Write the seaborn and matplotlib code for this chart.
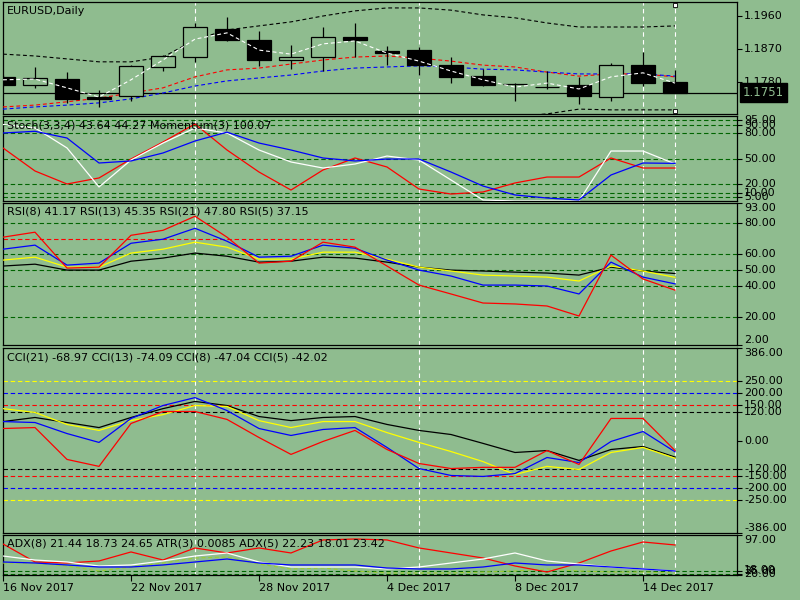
import matplotlib
matplotlib.use("Agg")
import matplotlib.pyplot as plt
import matplotlib.transforms as mtransforms
import numpy as np
import pandas as pd
import seaborn as sns

# ------ DATA ------ #

dates = ["16 Nov 2017", "17 Nov 2017", "20 Nov 2017", "21 Nov 2017", "22 Nov 2017",
         "23 Nov 2017", "24 Nov 2017", "27 Nov 2017", "28 Nov 2017", "29 Nov 2017",
         "30 Nov 2017", "1 Dec 2017", "4 Dec 2017", "5 Dec 2017", "6 Dec 2017",
         "7 Dec 2017", "8 Dec 2017", "11 Dec 2017", "12 Dec 2017", "13 Dec 2017",
         "14 Dec 2017", "15 Dec 2017"]

opens = [1.1794, 1.1772, 1.1788, 1.1739, 1.1742, 1.1821, 1.1849, 1.1925, 1.1895, 1.1840, 1.1848,
         1.1903, 1.1865, 1.1867, 1.1826, 1.1796, 1.1775, 1.1766, 1.1772, 1.1739, 1.1826, 1.1779]
highs = [1.1799, 1.1821, 1.1807, 1.1758, 1.1826, 1.1854, 1.1941, 1.1957, 1.1919, 1.1881, 1.1930,
         1.1940, 1.1878, 1.1876, 1.1848, 1.1816, 1.1777, 1.1810, 1.1794, 1.1832, 1.1862, 1.1813]
lows = [1.1768, 1.1764, 1.1723, 1.1712, 1.1728, 1.1810, 1.1835, 1.1892, 1.1824, 1.1816, 1.1810,
        1.1848, 1.1826, 1.1799, 1.1777, 1.1769, 1.1728, 1.1761, 1.1720, 1.1728, 1.1769, 1.1751]
closes = [1.1772, 1.1791, 1.1734, 1.1734, 1.1824, 1.1851, 1.1930, 1.1895, 1.1840, 1.1848, 1.1903,
          1.1895, 1.1859, 1.1826, 1.1793, 1.1772, 1.1774, 1.1766, 1.1742, 1.1826, 1.1777, 1.1751]
last_price = 1.1751

ma_fast = [1.1786, 1.1788, 1.1764, 1.1739, 1.1786, 1.1840, 1.1897, 1.1914, 1.1867, 1.1856, 1.1884,
           1.1892, 1.1859, 1.1837, 1.1810, 1.1786, 1.1766, 1.1777, 1.1761, 1.1794, 1.1805, 1.1777]
ma_red = [1.1712, 1.1717, 1.1726, 1.1736, 1.1750, 1.1764, 1.1794, 1.1813, 1.1818, 1.1829, 1.1840,
          1.1848, 1.1851, 1.1845, 1.1837, 1.1826, 1.1821, 1.1807, 1.1796, 1.1802, 1.1802, 1.1794]
ma_blue = [1.1706, 1.1712, 1.1717, 1.1723, 1.1734, 1.1750, 1.1769, 1.1783, 1.1791, 1.1799, 1.1810,
           1.1818, 1.1821, 1.1824, 1.1821, 1.1815, 1.1813, 1.1807, 1.1802, 1.1802, 1.1802, 1.1796]
band_upper = [1.1856, 1.1851, 1.1843, 1.1835, 1.1835, 1.1848, 1.1895, 1.1922, 1.1933, 1.1944, 1.1960,
              1.1974, 1.1982, 1.1982, 1.1976, 1.1963, 1.1955, 1.1941, 1.1930, 1.1930, 1.1930, 1.1933]
band_lower = [1.1640, 1.1640, 1.1645, 1.1650, 1.1655, 1.1655, 1.1640, 1.1640, 1.1645, 1.1650, 1.1650,
              1.1650, 1.1655, 1.1660, 1.1668, 1.1676, 1.1686, 1.1693, 1.1706, 1.1704, 1.1704, 1.1704]
price_ticks = [1.1960, 1.1870, 1.1780]

stoch_main = [90.0, 86.0, 62.4, 16.5, 48.2, 68.2, 85.9, 80.0, 60.0, 45.9, 38.8,
              43.5, 52.9, 48.2, 24.7, 1.2, 0.0, 0.0, 0.0, 58.8, 58.8, 43.64]
stoch_signal = [80.0, 82.0, 74.1, 44.7, 47.1, 56.5, 70.6, 81.0, 68.2, 60.0, 50.6,
                47.1, 49.4, 49.4, 34.1, 17.6, 7.1, 3.5, 1.2, 30.6, 44.7, 44.27]
momentum = [62.4, 35.3, 20.0, 27.1, 49.4, 69.4, 90.6, 60.0, 34.1, 12.9, 36.5,
            50.6, 40.0, 14.1, 8.2, 10.6, 21.2, 28.2, 28.2, 50.6, 38.8, 38.8]
stoch_levels = [95, 90, 80, 50, 20, 10, 5]

rsi_5 = [71.1, 74.3, 51.3, 51.9, 72.3, 75.5, 84.5, 71.1, 54.5, 55.7, 67.9,
         64.7, 52.6, 40.4, 34.7, 28.9, 28.3, 27.0, 20.6, 59.6, 44.3, 37.15]
rsi_8 = [63.4, 66.0, 53.2, 54.5, 67.2, 69.8, 76.8, 68.5, 58.3, 58.9, 66.0,
         64.0, 56.4, 50.0, 46.2, 40.4, 40.4, 39.8, 34.7, 55.1, 45.5, 41.17]
rsi_13 = [56.4, 58.3, 51.9, 51.9, 60.9, 63.4, 67.9, 64.7, 57.0, 57.0, 61.5,
          61.5, 57.0, 51.9, 49.4, 46.8, 46.2, 45.5, 43.0, 52.6, 49.4, 45.35]
rsi_21 = [52.6, 53.8, 50.0, 50.0, 55.7, 57.7, 60.9, 58.9, 55.1, 55.7, 58.3,
          57.7, 55.1, 51.9, 50.0, 49.4, 48.7, 48.1, 46.8, 51.9, 49.4, 47.80]
rsi_levels = [80, 60, 50, 40, 20]
rsi_ticks = [93, 80, 60, 50, 40, 20, 2]
rsi_mark = 70

cci_21 = [79, 96, 75, 54, 96, 133, 163, 146, 100, 83, 96,
          100, 67, 42, 25, -12, -50, -42, -83, -37.5, -25, -68.97]
cci_13 = [133, 117, 67, 42, 83, 108, 146, 142, 83, 54, 79,
          79, 33, -8, -46, -88, -142, -108, -121, -50, -29, -74.09]
cci_8 = [79, 75, 29, -8, 92, 146, 179, 125, 50, 21, 46,
         54, -29, -117, -146, -150, -138, -71, -92, -4, 37.5, -47.04]
cci_5 = [50, 54, -79, -108, 71, 121, 121, 88, 12.5, -58, -4,
         42, -37.5, -96, -117, -112, -112, -42, -100, 92, 92, -42.02]
cci_levels = [250, 200, 150, 120]
cci_level_colors = ["#FFFF00", "#0000FF", "#FF0000", "#000000"]
cci_ticks = [386, 250, 200, 150, 120, 0, -120, -150, -200, -250, -386]

adx_red = [79.3, 43.7, 41.7, 45.7, 63.5, 47.6, 71.4, 61.5, 71.4, 61.5, 87.2,
           89.1, 87.2, 71.4, 61.5, 51.6, 35.8, 23.9, 41.7, 65.4, 83.2, 77.3]
adx_white = [55.5, 47.6, 43.7, 35.8, 37.8, 45.7, 55.5, 61.5, 43.7, 33.8, 33.8,
             33.8, 29.9, 33.8, 41.7, 49.6, 61.5, 45.7, 39.7, 33.8, 29.9, 25.9]
adx_blue = [43.7, 41.7, 37.8, 33.8, 33.8, 37.8, 43.7, 49.6, 41.7, 37.8, 37.8,
            37.8, 31.8, 29.9, 29.9, 33.8, 41.7, 37.8, 37.8, 33.8, 29.9, 25.9]
adx_green = [41.7, 41.7, 35.8, 25.9, 33.8, 41.7, 51.6, 53.6, 39.7, 29.9, 31.8,
             25.9, 22.0, 22.0, 22.0, 23.9, 25.9, 29.9, 25.9, 23.9, 23.9, 22.0]
adx_levels = [25, 20]
adx_ticks = [97, 25, 20, 18]

marked_bars = [6, 13, 20, 21]

# ------ STYLE ------ #

BG = "#8FBC8F"
LVL = "#006400"
W, H = 800, 600
AX_W = 734
DOT = (0, (3.5, 2.5))
FS = 8

plt.rcParams["font.family"] = ["DejaVu Sans"]
plt.rcParams["font.size"] = FS

fig = plt.figure(figsize=(8, 6), dpi=100, facecolor=BG)

x = np.arange(len(dates))
n_view = AX_W / 32.0


def panel(top, bottom, ylim):
    ax = fig.add_axes([3 / W, 1 - bottom / H, AX_W / W, (bottom - top) / H])
    ax.set_facecolor(BG)
    for s in ax.spines.values():
        s.set_color("black")
        s.set_linewidth(0.9)
    ax.set_xlim(0, n_view)
    ax.set_ylim(*ylim)
    ax.tick_params(axis="x", bottom=False, labelbottom=False)
    ax.tick_params(axis="y", left=False, labelleft=False, right=True, labelright=False,
                   direction="out", length=3.5, width=0.8, color="black")
    for b in marked_bars:
        ax.axvline(b, color="white", lw=0.8, ls=(0, (4, 3)), zorder=1)
    return ax


def right_labels(ax, ticks, top=None, bottom=None, fmt="{:.2f}"):
    ax.set_yticks(ticks)
    tr = mtransforms.blended_transform_factory(ax.transAxes, ax.transData)
    for t in ticks:
        va = "center"
        if top is not None and t == top:
            va = "top"
        if bottom is not None and t == bottom:
            va = "bottom"
        ax.text(1 + 7 / AX_W, t, fmt.format(t), transform=tr, ha="left", va=va,
                fontsize=FS, color="black", clip_on=False)


def title(ax, text):
    ax.annotate(text, xy=(0, 1), xycoords="axes fraction", xytext=(4, -4),
                textcoords="offset pixels", ha="left", va="top", fontsize=FS, color="black")


def line(ax, df, col, color, ls="-", lw=0.9):
    sns.lineplot(data=df, x="bar", y=col, color=color, linestyle=ls, linewidth=lw,
                 ax=ax, legend=False, zorder=3)
    ax.set_xlabel("")
    ax.set_ylabel("")


# ------ PRICE ------ #

ax_p = panel(2, 114, (1.16927, 1.19982))
pdf = pd.DataFrame({"bar": x, "fast": ma_fast, "red": ma_red, "blue": ma_blue,
                    "up": band_upper, "low": band_lower})
line(ax_p, pdf, "up", "black", DOT, 0.8)
line(ax_p, pdf, "low", "black", DOT, 0.8)
line(ax_p, pdf, "red", "#FF0000", DOT, 0.8)
line(ax_p, pdf, "blue", "#0000FF", DOT, 0.8)
ax_p.axhline(last_price, color="black", lw=0.9, zorder=2)

o, h, l, c = map(np.array, (opens, highs, lows, closes))
ax_p.vlines(x, l, h, color="black", lw=0.9, zorder=4)
body_col = np.where(c > o, BG, "black")
ax_p.bar(x, np.abs(c - o), bottom=np.minimum(o, c), width=0.72, color=body_col,
         edgecolor="black", linewidth=0.9, zorder=5)
line(ax_p, pdf, "fast", "white", DOT, 0.8)
ax_p.get_lines()[-1].set_zorder(6)

ax_p.plot([marked_bars[-1]] * 2, [1.19982 - 0.0008, 1.16927 + 0.0008], ls="none",
          marker="s", ms=3.2, mfc="white", mec="black", mew=0.6, zorder=7, clip_on=False)

right_labels(ax_p, price_ticks, fmt="{:.4f}")
tr_p = mtransforms.blended_transform_factory(ax_p.transAxes, ax_p.transData)
ax_p.text(1 + 6 / AX_W, last_price, "{:.4f}".format(last_price), transform=tr_p,
          ha="left", va="center", fontsize=FS + 0.5, color=BG, clip_on=False,
          bbox=dict(facecolor="black", edgecolor="black", boxstyle="square,pad=0.25"))
title(ax_p, "EURUSD,Daily")

# ------ STOCH ------ #

ax_s = panel(116, 201, (0, 100))
for lv in stoch_levels:
    ax_s.axhline(lv, color=LVL, lw=0.8, ls=(0, (4, 2.5)), zorder=2)
sdf = pd.DataFrame({"bar": x, "main": stoch_main, "sig": stoch_signal, "mom": momentum})
line(ax_s, sdf, "mom", "#FF0000")
line(ax_s, sdf, "main", "white")
line(ax_s, sdf, "sig", "#0000FF")
right_labels(ax_s, stoch_levels)
title(ax_s, "Stoch(3,3,4) 43.64 44.27 Momentum(3) 100.07")

# ------ RSI ------ #

ax_r = panel(203, 345, (2, 93))
for lv in rsi_levels:
    ax_r.axhline(lv, color=LVL, lw=0.8, ls=(0, (4, 2.5)), zorder=2)
ax_r.hlines(rsi_mark, 0, 11, color="#FF0000", lw=0.8, ls=(0, (4, 2.5)), zorder=2)
rdf = pd.DataFrame({"bar": x, "r21": rsi_21, "r13": rsi_13, "r8": rsi_8, "r5": rsi_5})
line(ax_r, rdf, "r21", "black")
line(ax_r, rdf, "r13", "#FFFF00")
line(ax_r, rdf, "r8", "#0000FF")
line(ax_r, rdf, "r5", "#FF0000")
right_labels(ax_r, rsi_ticks, top=93, bottom=2)
title(ax_r, "RSI(8) 41.17 RSI(13) 45.35 RSI(21) 47.80 RSI(5) 37.15")

# ------ CCI ------ #

ax_c = panel(348, 533, (-386, 386))
for lv, col in zip(cci_levels, cci_level_colors):
    ax_c.axhline(lv, color=col, lw=0.8, ls=(0, (4, 2.5)), zorder=2)
    ax_c.axhline(-lv, color=col, lw=0.8, ls=(0, (4, 2.5)), zorder=2)
cdf = pd.DataFrame({"bar": x, "c21": cci_21, "c13": cci_13, "c8": cci_8, "c5": cci_5})
line(ax_c, cdf, "c21", "black")
line(ax_c, cdf, "c13", "#FFFF00")
line(ax_c, cdf, "c8", "#0000FF")
line(ax_c, cdf, "c5", "#FF0000")
right_labels(ax_c, cci_ticks, top=386, bottom=-386)
title(ax_c, "CCI(21) -68.97 CCI(13) -74.09 CCI(8) -47.04 CCI(5) -42.02")

# ------ ADX ------ #

ax_a = panel(535, 575, (18, 97))
for lv in adx_levels:
    ax_a.axhline(lv, color=LVL, lw=0.8, ls=(0, (4, 2.5)), zorder=2)
adf = pd.DataFrame({"bar": x, "red": adx_red, "white": adx_white, "blue": adx_blue,
                    "green": adx_green})
line(ax_a, adf, "green", "#9ACD32", DOT, 0.8)
line(ax_a, adf, "red", "#FF0000")
line(ax_a, adf, "white", "white")
line(ax_a, adf, "blue", "#0000FF")
right_labels(ax_a, adx_ticks, top=97, bottom=18)
title(ax_a, "ADX(8) 21.44 18.73 24.65 ATR(3) 0.0085 ADX(5) 22.23 18.01 23.42")

tick_idx = list(range(0, len(dates), 4))
ax_a.set_xticks(tick_idx)
ax_a.set_xticklabels([dates[i] for i in tick_idx])
ax_a.tick_params(axis="x", bottom=True, labelbottom=True, direction="out",
                 length=4, width=0.8, pad=2, labelsize=FS)
plt.setp(ax_a.get_xticklabels(), ha="left")

fig.savefig("out.png", dpi=100, facecolor=BG)
